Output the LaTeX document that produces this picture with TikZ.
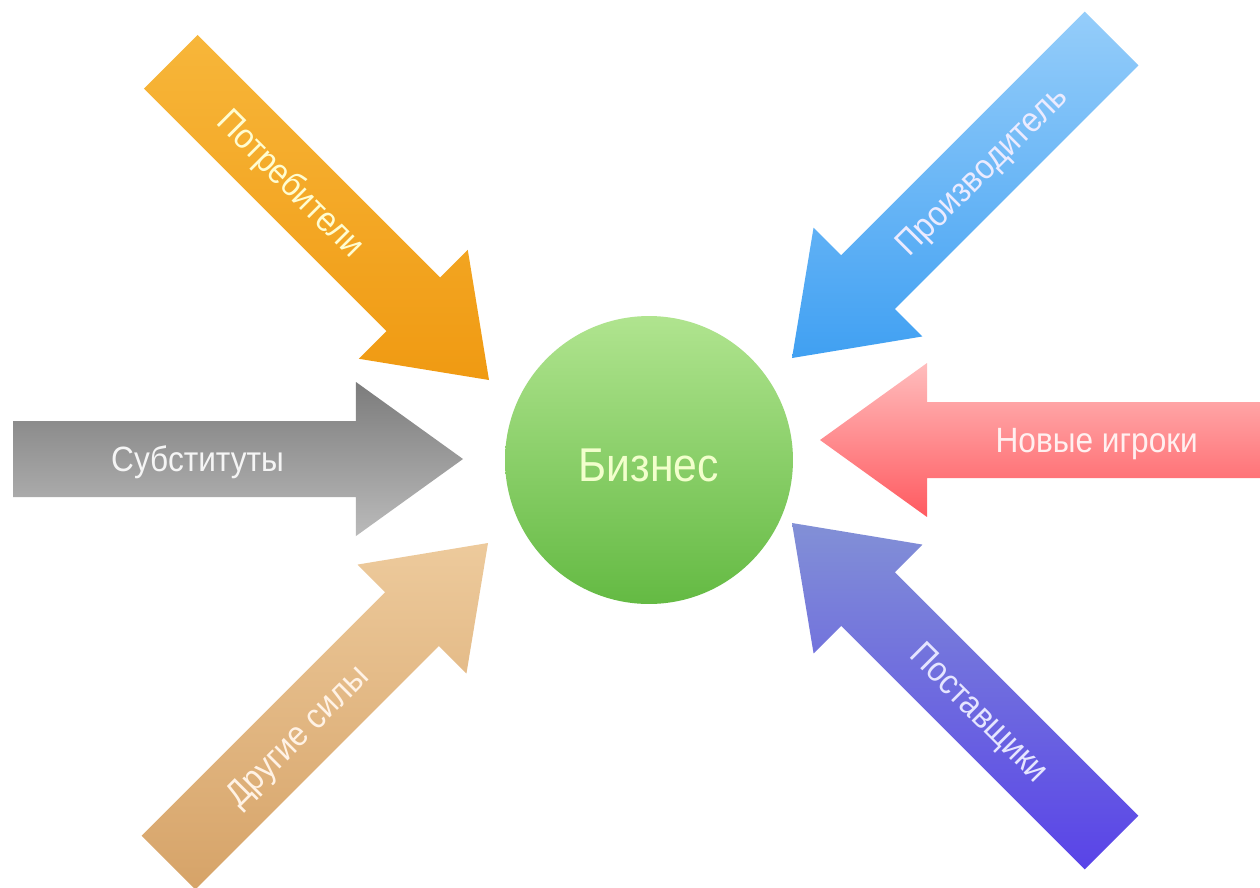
\documentclass[tikz,border=0pt]{standalone}
\usepackage{fontspec}
\setmainfont[FakeStretch=0.9]{Liberation Sans}
\usetikzlibrary{calc}
\definecolor{orTop}{HTML}{F7B63A}
\definecolor{orBot}{HTML}{F09A12}
\definecolor{blTop}{HTML}{95CDFA}
\definecolor{blBot}{HTML}{40A0F2}
\definecolor{grTop}{HTML}{7C7C7C}
\definecolor{grBot}{HTML}{BABABA}
\definecolor{rdTop}{HTML}{FFBDBD}
\definecolor{rdBot}{HTML}{FF5A60}
\definecolor{bgTop}{HTML}{EDCA9C}
\definecolor{bgBot}{HTML}{D6A368}
\definecolor{puTop}{HTML}{8290D6}
\definecolor{puBot}{HTML}{5943E8}
\definecolor{gnTop}{HTML}{B0E48F}
\definecolor{gnBot}{HTML}{64BA43}
% #1 name, #2 tail, #3 tip, #4 style
\newcommand\forcearrow[4]{%
  \coordinate (#1-t) at #2;
  \coordinate (#1-p) at #3;
  \coordinate (#1-b) at ($(#1-t)!0.7622!(#1-p)$);
  \path[#4] ($(#1-t)!0.76cm!90:(#1-p)$) -- ($(#1-b)!0.76cm!90:(#1-p)$)
    -- ($(#1-b)!1.54cm!90:(#1-p)$) -- (#1-p)
    -- ($(#1-b)!1.54cm!-90:(#1-p)$) -- ($(#1-b)!0.76cm!-90:(#1-p)$)
    -- ($(#1-t)!0.76cm!-90:(#1-p)$) -- cycle;
}
\begin{document}
\begin{tikzpicture}[x=0.02cm,y=-0.02cm,
  lbl/.style={font=\fontsize{20}{22}\selectfont, inner sep=0pt,
    text height=14.3pt, text depth=0pt, anchor=center}]
\clip (0,0) rectangle (1260,887);
\fill[white] (0,0) rectangle (1260,887);

\forcearrow{o}{(170.8,61.8)}{(489,380)}{top color=orTop,bottom color=orBot}
\forcearrow{b}{(1111.6,38.4)}{(792,358)}{top color=blTop,bottom color=blBot}
\forcearrow{g}{(13,459)}{(463,459)}{top color=grTop,bottom color=grBot}
\forcearrow{r}{(1270,440)}{(820,440)}{top color=rdTop,bottom color=rdBot}
\forcearrow{e}{(168.4,862.6)}{(488,543)}{top color=bgTop,bottom color=bgBot}
\forcearrow{u}{(1111.6,842.6)}{(792,523)}{top color=puTop,bottom color=puBot}

\node[lbl, text=white!82!yellow, rotate=-45] (o-lbl) at ($(o-t)!0.38!(o-p)$) {Потребители};
\node[lbl, text=white!92!blue, rotate=45] (b-lbl) at ($(b-t)!0.41!(b-p)$) {Производитель};
\node[lbl, text=white!96!black] (g-lbl) at ($(g-t)!0.41!(g-p)$) {Субституты};
\node[lbl, text=white!94!red] (r-lbl) at ($(r-t)!0.385!(r-p)$) {Новые игроки};
\node[lbl, text=white!90!orange, rotate=45] (e-lbl) at ($(e-t)!0.40!(e-p)$) {Другие силы};
\node[lbl, text=white!90!blue, rotate=-45] (u-lbl) at ($(u-t)!0.41!(u-p)$) {Поставщики};

\node[circle, minimum size=5.76cm, inner sep=0pt, top color=gnTop, bottom color=gnBot,
  text=white!80!lime, font=\fontsize{27}{30}\selectfont, text height=25pt, text depth=0pt]
  (biz) at (649,460) {Бизнес};
\end{tikzpicture}
\end{document}
